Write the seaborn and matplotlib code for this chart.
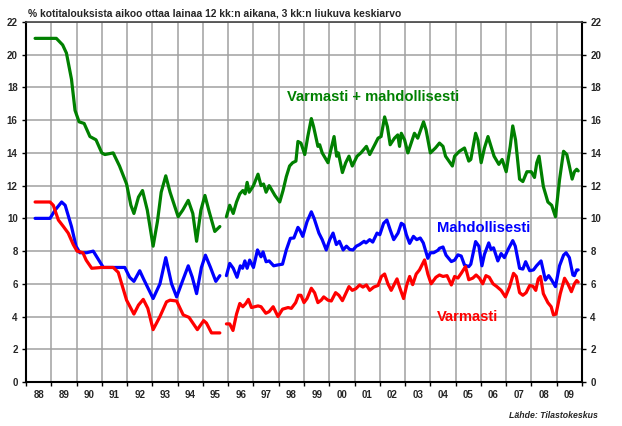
import numpy as np
import pandas as pd
import matplotlib
matplotlib.use("Agg")
import matplotlib.pyplot as plt
import seaborn as sns

# --- data (decimal year, % of households) ---
green_t1 = [1988.36, 1989.0, 1989.2, 1989.45, 1989.6, 1989.8, 1989.94, 1990.1, 1990.3, 1990.53,
            1990.77, 1991.0, 1991.12, 1991.45, 1991.7, 1991.98, 1992.15, 1992.27, 1992.45, 1992.61,
            1992.8, 1993.03, 1993.2, 1993.35, 1993.53, 1993.7, 1994.02, 1994.2, 1994.42, 1994.6,
            1994.75, 1994.92, 1995.08, 1995.25, 1995.47, 1995.67]
green_v1 = [21.0, 21.0, 21.0, 20.6, 20.1, 18.5, 16.6, 15.9, 15.8, 15.0,
            14.8, 14.0, 13.9, 14.0, 13.2, 12.1, 10.8, 10.3, 11.3, 11.7,
            10.5, 8.3, 9.8, 11.6, 12.6, 11.6, 10.1, 10.5, 11.1, 10.3,
            8.6, 10.5, 11.4, 10.4, 9.2, 9.5]
green_t2 = [1995.93, 1996.06, 1996.2, 1996.33, 1996.46, 1996.58, 1996.67, 1996.75, 1996.83, 1997.0,
            1997.18, 1997.3, 1997.4, 1997.5, 1997.62, 1997.7, 1997.85, 1998.04, 1998.17, 1998.3,
            1998.43, 1998.55, 1998.68, 1998.76, 1998.88, 1999.03, 1999.15, 1999.29, 1999.38, 1999.55,
            1999.62, 1999.72, 1999.95, 2000.05, 2000.19, 2000.29, 2000.36, 2000.52, 2000.65, 2000.78,
            2000.91, 2001.1, 2001.25, 2001.47, 2001.6, 2001.8, 2001.93, 2002.05, 2002.19, 2002.3,
            2002.41, 2002.58, 2002.71, 2002.78, 2002.85, 2002.98, 2003.11, 2003.24, 2003.37, 2003.5,
            2003.73, 2003.83, 2004.0, 2004.2, 2004.36, 2004.5, 2004.6, 2004.87, 2004.96, 2005.15,
            2005.35, 2005.52, 2005.6, 2005.79, 2005.88, 2006.01, 2006.14, 2006.28, 2006.4, 2006.52,
            2006.71, 2006.84, 2007.0, 2007.16, 2007.26, 2007.37, 2007.53, 2007.66, 2007.82, 2007.99,
            2008.12, 2008.21, 2008.3, 2008.47, 2008.65, 2008.8, 2008.95, 2009.11, 2009.27, 2009.4,
            2009.5, 2009.61, 2009.7, 2009.79, 2009.85]
green_v2 = [10.1, 10.8, 10.3, 11.0, 11.5, 11.7, 11.5, 12.2, 11.6, 12.0,
            12.7, 12.0, 12.1, 11.6, 12.0, 11.8, 11.4, 11.0, 11.7, 12.55,
            13.2, 13.4, 13.5, 14.7, 14.6, 13.9, 15.0, 16.1, 15.6, 14.4,
            14.5, 14.0, 13.4, 14.1, 15.0, 13.8, 14.0, 12.8, 13.4, 13.8,
            13.2, 13.8, 14.0, 14.4, 13.9, 14.5, 14.9, 15.0, 16.2, 15.6,
            14.5, 14.9, 15.1, 14.4, 15.2, 14.8, 14.0, 14.6, 15.2, 14.9,
            15.9, 15.4, 14.0, 14.3, 14.6, 14.4, 13.8, 13.2, 13.8, 14.1,
            14.3, 13.5, 13.6, 15.2, 14.8, 13.4, 14.3, 15.0, 14.4, 13.8,
            13.3, 13.6, 12.85, 14.4, 15.65, 14.8, 12.4, 12.25, 12.85, 12.85,
            12.5, 13.4, 13.8, 11.95, 11.0, 10.8, 10.1, 12.35, 14.1, 13.9,
            13.2, 12.4, 12.85, 13.0, 12.9]

blue_t1 = [1988.36, 1988.95, 1989.15, 1989.41, 1989.55, 1989.8, 1989.98, 1990.13, 1990.4, 1990.66,
           1990.86, 1991.06, 1991.45, 1991.91, 1992.1, 1992.27, 1992.5, 1992.65, 1993.03, 1993.3,
           1993.53, 1993.76, 1993.96, 1994.2, 1994.42, 1994.58, 1994.75, 1994.94, 1995.1, 1995.3,
           1995.51, 1995.67]
blue_v1 = [10.0, 10.0, 10.5, 11.0, 10.8, 9.5, 8.3, 7.9, 7.9, 8.0,
           7.5, 7.0, 7.0, 7.0, 6.4, 6.15, 6.8, 6.3, 5.1, 6.0,
           7.6, 6.0, 5.2, 6.2, 7.1, 6.4, 5.4, 7.0, 7.75, 7.0,
           6.15, 6.5]
blue_t2 = [1995.93, 1996.06, 1996.2, 1996.35, 1996.48, 1996.57, 1996.66, 1996.75, 1996.85, 1997.0,
           1997.16, 1997.3, 1997.38, 1997.5, 1997.62, 1997.8, 1997.95, 1998.15, 1998.3, 1998.46,
           1998.6, 1998.76, 1998.83, 1998.95, 1999.12, 1999.29, 1999.4, 1999.59, 1999.72, 1999.88,
           2000.02, 2000.15, 2000.28, 2000.4, 2000.55, 2000.68, 2000.81, 2000.94, 2001.07, 2001.2,
           2001.38, 2001.45, 2001.6, 2001.72, 2001.89, 2002.0, 2002.15, 2002.28, 2002.41, 2002.55,
           2002.72, 2002.85, 2002.95, 2003.05, 2003.18, 2003.33, 2003.46, 2003.6, 2003.72, 2003.9,
           2004.0, 2004.13, 2004.3, 2004.36, 2004.5, 2004.62, 2004.83, 2004.96, 2005.09, 2005.22,
           2005.35, 2005.52, 2005.6, 2005.79, 2005.92, 2006.04, 2006.14, 2006.31, 2006.4, 2006.5,
           2006.67, 2006.8, 2006.93, 2007.06, 2007.26, 2007.36, 2007.53, 2007.66, 2007.77, 2007.93,
           2008.08, 2008.2, 2008.38, 2008.55, 2008.68, 2008.8, 2008.95, 2009.11, 2009.27, 2009.37,
           2009.5, 2009.64, 2009.7, 2009.79, 2009.85]
blue_v2 = [6.5, 7.25, 6.95, 6.4, 7.1, 6.95, 7.4, 6.95, 7.45, 7.0,
           8.07, 7.65, 7.95, 7.35, 7.4, 7.1, 7.15, 7.2, 8.07, 8.78,
           8.8, 9.45, 9.3, 8.9, 9.8, 10.4, 10.0, 9.1, 8.7, 8.07,
           8.7, 9.1, 8.4, 8.6, 8.07, 8.3, 8.1, 8.07, 8.3, 8.4,
           8.6, 8.5, 8.7, 8.55, 9.1, 9.0, 9.7, 9.9, 9.3, 8.7,
           9.1, 9.7, 9.6, 9.0, 8.47, 8.9, 8.7, 8.8, 8.5, 7.56,
           7.9, 7.9, 8.05, 8.17, 8.25, 7.75, 7.36, 7.45, 7.77, 7.7,
           7.15, 7.05, 7.2, 8.58, 8.3, 7.1, 7.8, 8.5, 8.1, 8.2,
           7.4, 7.85, 7.6, 8.05, 8.64, 8.3, 6.95, 6.9, 7.35, 6.8,
           6.85, 7.1, 7.4, 6.23, 6.5, 6.23, 5.83, 7.1, 7.75, 7.9,
           7.6, 6.54, 6.5, 6.85, 6.85]

red_t1 = [1988.36, 1988.95, 1989.08, 1989.28, 1989.48, 1989.67, 1989.87, 1990.02, 1990.25, 1990.38,
          1990.6, 1991.0, 1991.45, 1991.65, 1991.98, 1992.27, 1992.45, 1992.64, 1992.82, 1993.03,
          1993.3, 1993.56, 1993.7, 1993.96, 1994.22, 1994.45, 1994.78, 1995.03, 1995.14, 1995.34,
          1995.67]
red_v1 = [11.0, 11.0, 10.8, 9.9, 9.5, 9.1, 8.4, 8.0, 7.9, 7.45,
          6.95, 7.0, 7.0, 6.7, 5.0, 4.15, 4.7, 5.05, 4.5, 3.2,
          4.0, 4.9, 5.0, 4.95, 4.1, 3.95, 3.2, 3.75, 3.6, 3.0,
          3.0]
red_t2 = [1995.93, 1996.06, 1996.19, 1996.33, 1996.46, 1996.58, 1996.7, 1996.8, 1996.92, 1997.18,
          1997.3, 1997.49, 1997.62, 1997.78, 1997.97, 1998.15, 1998.37, 1998.5, 1998.67, 1998.78,
          1998.88, 1999.0, 1999.12, 1999.29, 1999.42, 1999.55, 1999.68, 1999.78, 1999.95, 2000.08,
          2000.25, 2000.38, 2000.52, 2000.65, 2000.78, 2000.91, 2001.05, 2001.2, 2001.33, 2001.47,
          2001.6, 2001.76, 2001.93, 2002.06, 2002.19, 2002.32, 2002.45, 2002.58, 2002.68, 2002.78,
          2002.94, 2003.07, 2003.18, 2003.3, 2003.44, 2003.57, 2003.77, 2003.9, 2004.03, 2004.22,
          2004.36, 2004.5, 2004.66, 2004.83, 2004.96, 2005.09, 2005.22, 2005.39, 2005.52, 2005.68,
          2005.81, 2005.94, 2006.07, 2006.2, 2006.33, 2006.48, 2006.63, 2006.8, 2006.97, 2007.13,
          2007.29, 2007.4, 2007.53, 2007.66, 2007.79, 2007.93, 2008.06, 2008.17, 2008.27, 2008.36,
          2008.47, 2008.65, 2008.78, 2008.87, 2008.97, 2009.14, 2009.31, 2009.44, 2009.58, 2009.7,
          2009.79, 2009.85]
red_v2 = [3.55, 3.55, 3.15, 4.15, 4.8, 4.6, 4.8, 5.05, 4.55, 4.65,
          4.6, 4.2, 4.3, 4.6, 4.0, 4.45, 4.55, 4.5, 4.85, 5.3,
          5.3, 4.85, 5.1, 5.73, 5.45, 4.85, 5.0, 5.2, 5.0, 4.95,
          5.46, 5.3, 4.97, 5.4, 5.83, 5.6, 5.7, 5.93, 5.8, 5.93,
          5.6, 5.8, 5.9, 6.44, 6.6, 6.0, 5.6, 6.0, 6.3, 5.8,
          5.1, 5.95, 6.45, 5.95, 6.6, 6.85, 7.46, 6.6, 6.0, 6.4,
          6.54, 6.45, 6.5, 5.93, 6.45, 6.35, 6.64, 7.05, 6.25, 6.35,
          6.54, 6.35, 6.0, 6.5, 6.4, 6.0, 5.83, 5.6, 5.2, 5.8,
          6.64, 6.45, 5.46, 5.3, 5.46, 5.9, 5.85, 5.6, 6.3, 6.45,
          5.4, 4.85, 4.6, 4.1, 4.15, 5.4, 6.34, 6.0, 5.52, 6.0,
          6.2, 6.1]

years = list(range(1988, 2010))
year_labels = [f"{y % 100:02d}" for y in years]

subtitle = "% kotitalouksista aikoo ottaa lainaa 12 kk:n aikana, 3 kk:n liukuva keskiarvo"
source = "Lähde: Tilastokeskus"

# --- build long table ---
parts = []
for name, seg, t, v in [
    ("green", "g1", green_t1, green_v1), ("green", "g2", green_t2, green_v2),
    ("blue", "b1", blue_t1, blue_v1), ("blue", "b2", blue_t2, blue_v2),
    ("red", "r1", red_t1, red_v1), ("red", "r2", red_t2, red_v2),
]:
    parts.append(pd.DataFrame({"t": t, "v": v, "series": name, "seg": seg}))
df = pd.concat(parts, ignore_index=True)

sns.set_theme(style="white")
plt.rcParams["font.family"] = ["Liberation Sans", "DejaVu Sans"]
plt.rcParams["font.weight"] = "bold"

fig = plt.figure(figsize=(6.22, 4.26), dpi=100)
ax = fig.add_axes([26 / 622, 44 / 426, 556 / 622, 360 / 426])

sns.lineplot(data=df, x="t", y="v", hue="series", units="seg", estimator=None, sort=False,
             palette={"green": "#008000", "blue": "#0000ff", "red": "#ff0000"},
             linewidth=2.3, legend=False, ax=ax, zorder=3)
for line in ax.get_lines():
    line.set_solid_joinstyle("round")
    line.set_solid_capstyle("round")

ax.set_xlim(1988, 2010)
ax.set_ylim(0, 22)
ax.set_xlabel("")
ax.set_ylabel("")

# year boundaries: grid + small tick marks; labels centred in the year
ax.set_xticks(years + [2010])
ax.set_xticklabels([])
ax.set_xticks([y + 0.5 for y in years], minor=True)
ax.set_xticklabels(year_labels, minor=True, fontsize=7, fontweight="bold")
ax.tick_params(axis="x", which="major", direction="out", length=3, width=1, color="black", bottom=True)
ax.tick_params(axis="x", which="minor", length=0, pad=6)

ax.set_yticks(np.arange(0, 23, 2))
ax.set_yticklabels([str(v) for v in range(0, 23, 2)], fontsize=7, fontweight="bold")
ax.tick_params(axis="y", which="major", direction="out", length=3, width=1, color="black",
               left=True, right=True, labelleft=True, labelright=True, pad=3)

ax.grid(True, which="major", color="#a0a0a0", linewidth=1.1)
ax.set_axisbelow(True)

for side in ["left", "bottom", "right"]:
    ax.spines[side].set_color("black")
    ax.spines[side].set_linewidth(1.5)
ax.spines["top"].set_color("#444444")
ax.spines["top"].set_linewidth(1.2)

ax.text(1998.32, 17.4, "Varmasti + mahdollisesti", color="#008000", fontsize=10.6,
        fontweight="bold", va="center", ha="left")
ax.text(2004.28, 9.4, "Mahdollisesti", color="#0000ff", fontsize=10.6,
        fontweight="bold", va="center", ha="left")
ax.text(2004.24, 4.0, "Varmasti", color="#ff0000", fontsize=10.6,
        fontweight="bold", va="center", ha="left")

fig.text(28 / 622, 1 - 13 / 426, subtitle, fontsize=7.4, fontweight="bold", va="center", ha="left")
fig.text(598 / 622, 1 - 416 / 426, source, fontsize=6.3, fontweight="bold", style="italic",
         va="center", ha="right")

fig.savefig("out.png", dpi=100)
